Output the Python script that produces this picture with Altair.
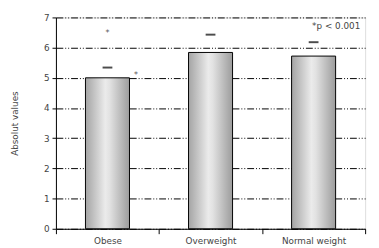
import altair as alt
import pandas as pd

categories = ["Obese", "Overweight", "Normal weight"]
bar_values = [5.0, 5.84, 5.72]
dash_values = [5.34, 6.43, 6.18]
star_top_cat = ["Obese"]
star_top_val = [6.57]
star_side_cat = ["Obese"]
star_side_val = [5.18]
y_ticks = [0, 1, 2, 3, 4, 5, 6, 7]

bars_df = pd.DataFrame({"cat": categories, "v": bar_values})
dash_df = pd.DataFrame({"cat": categories, "v": dash_values})
stop_df = pd.DataFrame({"cat": star_top_cat, "v": star_top_val})
ssde_df = pd.DataFrame({"cat": star_side_cat, "v": star_side_val})

FONT = "DejaVu Sans"

xscale = alt.Scale(paddingInner=0, paddingOuter=0)
xaxis = alt.Axis(labelAngle=0, tickBand="extent", title=None)
yscale = alt.Scale(domain=[0, 7], nice=False)
yaxis = alt.Axis(values=y_ticks, tickCount=8, title="Absolut values")


def X():
    return alt.X("cat:N", sort=categories, scale=xscale, axis=xaxis)


def Y():
    return alt.Y("v:Q", scale=yscale, axis=yaxis)


grad = alt.Gradient(gradient="linear", x1=0, x2=1, y1=0, y2=0,
                    stops=[alt.GradientStop(offset=0, color="#a4a4a4"),
                           alt.GradientStop(offset=0.45, color="#ebebeb"),
                           alt.GradientStop(offset=0.55, color="#e2e2e2"),
                           alt.GradientStop(offset=1, color="#9c9c9c")])

bars = alt.Chart(bars_df).mark_bar(size=45, color=grad, stroke="black",
                                   strokeWidth=1).encode(x=X(), y=Y())

dashes = alt.Chart(dash_df).mark_tick(color="black", size=10, thickness=2).encode(
    x=X(), y=Y())

star1 = alt.Chart(stop_df).mark_text(text="*", font=FONT, fontSize=8,
                                     color="#444", dy=3).encode(x=X(), y=Y())
star2 = alt.Chart(ssde_df).mark_text(text="*", font=FONT, fontSize=8,
                                     color="#444", dx=29, dy=3).encode(x=X(), y=Y())

note = alt.Chart(pd.DataFrame({"t": ["*p < 0.001"]})).mark_text(
    font=FONT, fontSize=9, color="#444", align="right", baseline="top").encode(
    text="t:N", x=alt.value(311), y=alt.value(5))

chart = alt.layer(bars, dashes, star1, star2, note).properties(
    width=316, height=216,
    autosize=alt.AutoSizeParams(type="none"),
    padding={"left": 49, "top": 7, "right": 6, "bottom": 17},
).configure_view(stroke="black", strokeWidth=1).configure(
    background="white"
).configure_axis(
    labelFont=FONT, labelFontSize=9, labelColor="#444",
    domainColor="black", tickColor="black", labelPadding=3,
    titleFont=FONT, titleFontSize=9, titleFontWeight="normal", titleColor="#444",
).configure_axisX(
    tickSize=5, grid=False
).configure_axisY(
    tickSize=4, grid=True, gridColor="black", gridDash=[7, 2, 1, 2, 1, 2],
    gridWidth=1, titlePadding=25
)

chart.save("out.html", embed_options={"renderer": "svg", "actions": False})
